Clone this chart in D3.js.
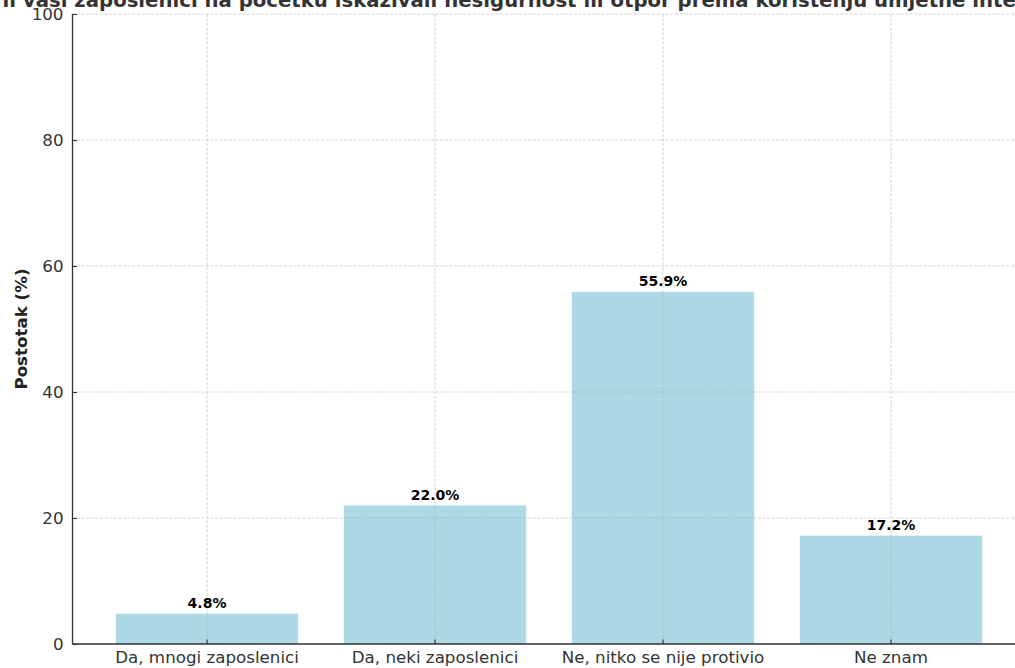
<!DOCTYPE html>
<html><head><meta charset="utf-8">
<script src="https://cdn.jsdelivr.net/npm/d3@7"></script>
<style>body{margin:0;background:#fff;} svg{display:block;font-family:"DejaVu Sans",sans-serif;}</style>
</head><body>
<svg id="c" width="1015" height="668"></svg>
<script>
const categories = ["Da, mnogi zaposlenici", "Da, neki zaposlenici", "Ne, nitko se nije protivio", "Ne znam"];
const values = [4.8, 22.0, 55.9, 17.2];
const yTicks = [0, 20, 40, 60, 80, 100];
const title = "Jesu li vaši zaposlenici na početku iskazivali nesigurnost ili otpor prema korištenju umjetne inteligencije?";
const yLabel = "Postotak (%)";

(function(){
const svg = d3.select("#c");
const pL = 72.5, pR = 1025.5, pT = 14, pB = 644;
const x = d3.scaleLinear().domain([-0.59, 3.59]).range([pL, pR]);
const y = d3.scaleLinear().domain([0, 100]).range([pB, pT]);
const bw = x(0.8) - x(0);

svg.append("g").selectAll("rect").data(values).join("rect")
  .attr("x", (d,i) => x(i) - bw/2).attr("width", bw)
  .attr("y", d => y(d)).attr("height", d => y(0) - y(d))
  .attr("fill", "#add8e6");

const grid = svg.append("g").attr("stroke", "#b0b0b0").attr("stroke-opacity", 0.7)
  .attr("stroke-width", 0.8).attr("stroke-dasharray", "3,1.6");
grid.selectAll("line.h").data(yTicks).join("line").attr("class", "h")
  .attr("x1", pL).attr("x2", pR).attr("y1", d => y(d)).attr("y2", d => y(d));
grid.selectAll("line.v").data(categories).join("line").attr("class", "v")
  .attr("x1", (d,i) => x(i)).attr("x2", (d,i) => x(i)).attr("y1", pT).attr("y2", pB);

svg.append("g").selectAll("text").data(values).join("text")
  .attr("x", (d,i) => x(i)).attr("y", d => y(d) - 5.5)
  .attr("text-anchor", "middle").attr("font-size", 14).attr("font-weight", "bold").attr("fill", "#000")
  .text(d => d.toFixed(1) + "%");

const yAxis = d3.axisLeft(y).tickValues(yTicks).tickSize(-4.5).tickPadding(9);
const gy = svg.append("g").attr("transform", `translate(${pL},0)`).call(yAxis);
gy.select(".domain").attr("stroke", "#333").attr("stroke-width", 1.3).attr("d", `M0,${pB}V${pT}`);
gy.selectAll(".tick line").attr("stroke", "#333").attr("stroke-width", 1.1);
gy.selectAll("text").attr("font-size", 16.7).attr("fill", "#333").attr("font-family", "DejaVu Sans");

const xb = d3.scaleBand().domain(categories).range([x(-0.5), x(3.5)]);
const xAxis = d3.axisBottom(xb).tickSize(-4.5).tickPadding(7);
const gx = svg.append("g").attr("transform", `translate(0,${pB})`).call(xAxis);
gx.select(".domain").attr("stroke", "#333").attr("stroke-width", 1.3).attr("d", `M${pL},0H${pR}`);
gx.selectAll(".tick line").attr("stroke", "#333").attr("stroke-width", 1.1);
gx.selectAll("text").attr("font-size", 16.7).attr("fill", "#333").attr("font-family", "DejaVu Sans")
  .attr("y", 19).attr("dy", 0);

svg.append("text").attr("transform", `translate(27,${(pT+pB)/2}) rotate(-90)`)
  .attr("text-anchor", "middle").attr("font-size", 16.7).attr("font-weight", "bold").attr("fill", "#222")
  .text(yLabel);

svg.append("text").attr("x", 535).attr("y", 6.5)
  .attr("text-anchor", "middle").attr("font-size", 19.7).attr("font-weight", "bold").attr("fill", "#333")
  .text(title);
})();
</script>
</body></html>
